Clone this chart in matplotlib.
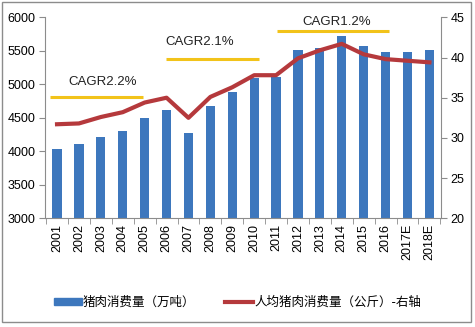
import matplotlib
matplotlib.use("Agg")
import matplotlib.pyplot as plt
from matplotlib.patches import Rectangle
from matplotlib.lines import Line2D

years = ["2001", "2002", "2003", "2004", "2005", "2006", "2007", "2008", "2009",
         "2010", "2011", "2012", "2013", "2014", "2015", "2016", "2017E", "2018E"]
consumption = [4040, 4105, 4215, 4305, 4500, 4610, 4280, 4675, 4890,
               5090, 5110, 5510, 5545, 5725, 5570, 5485, 5485, 5510]
per_capita = [31.7, 31.8, 32.6, 33.2, 34.4, 35.0, 32.5, 35.1, 36.3,
              37.8, 37.8, 39.9, 40.9, 41.7, 40.4, 39.8, 39.6, 39.4]
cagr_labels = ["CAGR2.2%", "CAGR2.1%", "CAGR1.2%"]
cagr_spans = [(-0.32, 3.93), (4.98, 9.22), (10.03, 15.17)]
cagr_levels = [4815, 5378, 5795]
cagr_text_pos = [(2.1, 5035), (6.5, 5635), (12.77, 5935)]

bar_label = "猪肉消费量（万吨）"
line_label = "人均猪肉消费量（公斤）-右轴"

BLUE = "#3D77BD"
RED = "#B5393C"
YELLOW = "#F2C31A"
GRAY = "#8C8C8C"

plt.rcParams['font.family'] = ['Liberation Sans', 'Noto Sans CJK SC', 'DejaVu Sans']

fig = plt.figure(figsize=(4.75, 3.27), dpi=100)
ax = fig.add_axes([0.0947, 0.3324, 0.928 - 0.0947, 0.947 - 0.3324])
x = list(range(len(years)))

ax.bar(x, consumption, width=0.42, color=BLUE, zorder=2)
ax.set_ylim(3000, 6000)
ax.set_yticks([3000, 3500, 4000, 4500, 5000, 5500, 6000])
ax.set_xlim(-0.55, 17.52)
ax.set_xticks(x)
ax.set_xticklabels(years, rotation=90, fontsize=9)
ax.set_xticks([i + 0.5 for i in range(-1, len(years))], minor=True)
ax.tick_params(axis='x', which='major', length=0, pad=4)
ax.tick_params(axis='x', which='minor', length=4, color=GRAY, direction='out')
ax.tick_params(axis='y', labelsize=9, length=4, color=GRAY, pad=3)

for s in ['top', 'right']:
    ax.spines[s].set_visible(False)
for s in ['left', 'bottom']:
    ax.spines[s].set_color(GRAY)

for (x0, x1), lvl, lab, (tx, ty) in zip(cagr_spans, cagr_levels, cagr_labels, cagr_text_pos):
    ax.plot([x0, x1], [lvl, lvl], color=YELLOW, lw=2.2, zorder=3, solid_capstyle='butt')
    ax.text(tx, ty, lab, ha='center', va='center', fontsize=9.5, color='#222222')

ax2 = ax.twinx()
ax2.plot(x, per_capita, color=RED, lw=3, zorder=4)
ax2.set_ylim(20, 45)
ax2.set_yticks([20, 25, 30, 35, 40, 45])
ax2.tick_params(axis='y', labelsize=9, length=4, color=GRAY, pad=3)
for s in ['top', 'left', 'bottom']:
    ax2.spines[s].set_visible(False)
ax2.spines['right'].set_color(GRAY)

handles = [Rectangle((0, 0), 1, 1, color=BLUE),
           Line2D([0], [0], color=RED, lw=3)]
fig.legend(handles, [bar_label, line_label], loc='center',
           bbox_to_anchor=(0.5, 1 - 302.7 / 327), ncol=2, frameon=False,
           prop={'family': ['Noto Sans CJK SC', 'DejaVu Sans'], 'size': 9},
           handlelength=2.2, handleheight=0.5, handletextpad=0.1, columnspacing=2.4)

fig.patches.append(Rectangle((2 / 475, 5 / 327), 469 / 475, 320 / 327,
                             transform=fig.transFigure, fill=False,
                             edgecolor=GRAY, lw=1))

fig.savefig("out.png", dpi=100)
